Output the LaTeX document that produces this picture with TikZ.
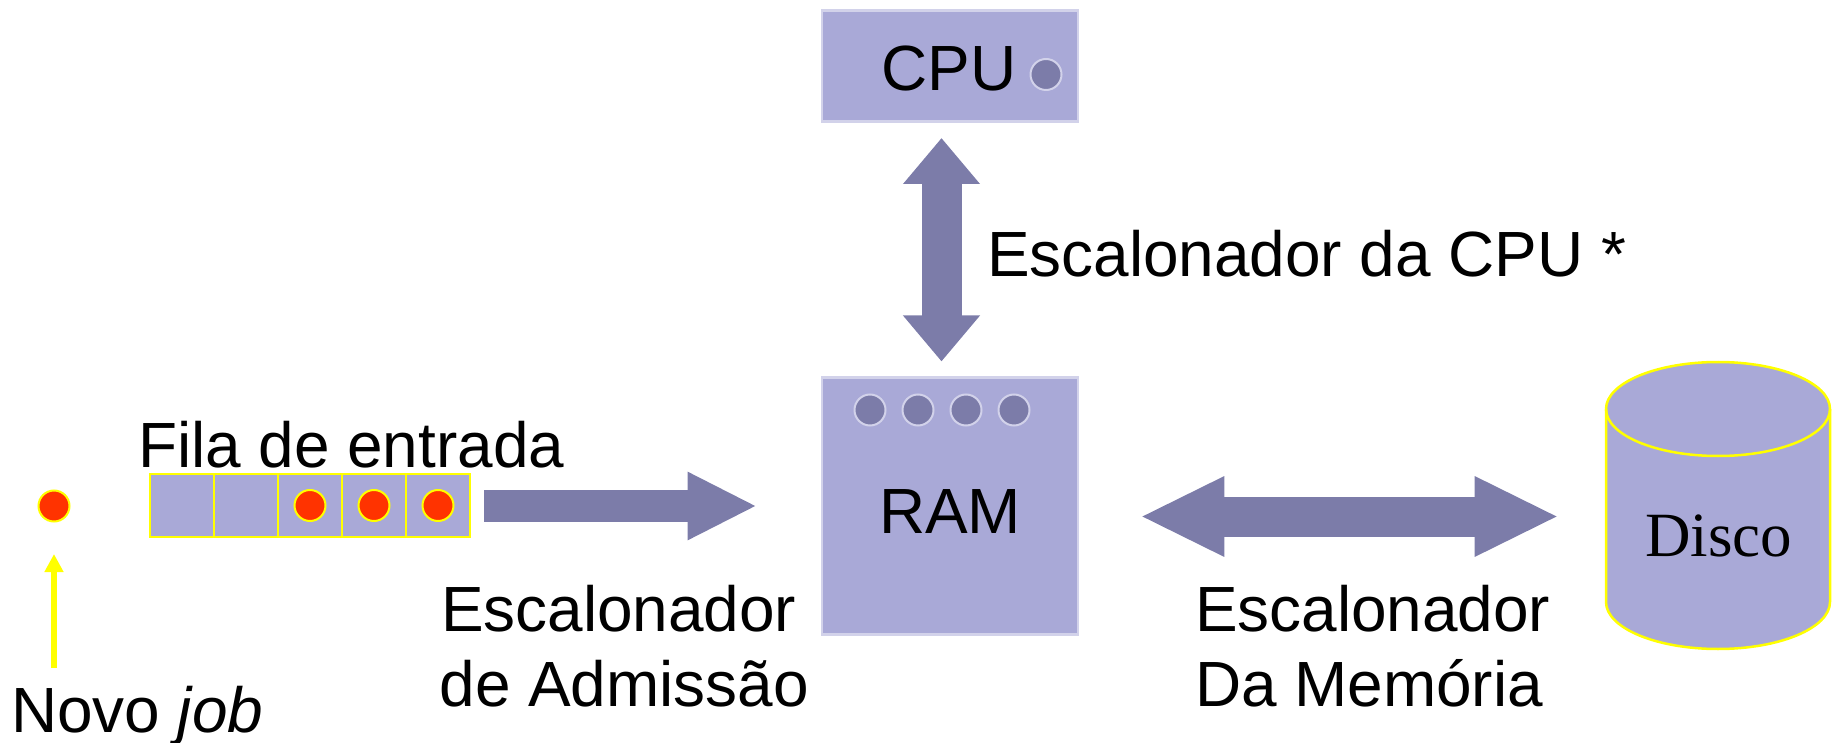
\documentclass[tikz,border=0pt]{standalone}
\usepackage{fontspec}
\setmainfont{Liberation Sans}
\newfontfamily\discofont{Liberation Serif}
\usetikzlibrary{arrows.meta,positioning}
\definecolor{boxfill}{HTML}{A9A9D7}
\definecolor{boxedge}{HTML}{D2D2EA}
\definecolor{dark}{HTML}{7C7CA9}
\definecolor{jobred}{HTML}{FF3300}
\definecolor{jobyellow}{HTML}{FFFF00}
\tikzset{
  every node/.style={inner sep=0pt,outer sep=0pt},
  label text/.style={anchor=base west,font=\fontsize{63.9}{64}\selectfont,text=black},
  machine/.style={draw=boxedge,fill=boxfill,line width=2.5pt,anchor=north west},
  cell/.style={draw=jobyellow,fill=boxfill,line width=2.5pt,minimum width=64pt,minimum height=63pt},
  slot/.style={circle,draw=boxedge,fill=dark,line width=2pt,minimum size=31pt},
  jobdot/.style={circle,draw=jobyellow,fill=jobred,line width=2pt,minimum size=31pt},
  flowvert/.style={draw=dark,line width=40pt,{Triangle[length=46pt,width=74pt]}-{Triangle[length=46pt,width=74pt]}},
  flowhoriz/.style={draw=dark,line width=40pt,{Triangle[length=84.3pt,width=74pt]}-{Triangle[length=84.3pt,width=74pt]}},
  flowright/.style={draw=dark,line width=32pt,-{Triangle[length=69.3pt,width=63pt]}},
  newjob/.style={draw=jobyellow,line width=5.5pt,-{Triangle[length=18pt,width=18pt]}},
  diskline/.style={draw=jobyellow,line width=2.5pt},
}
\begin{document}
\begin{tikzpicture}[x=1pt,y=-1pt]
\useasboundingbox (0,0) rectangle (1837,743);
% CPU
\node[machine,minimum width=256pt,minimum height=111pt] (cpu) at (822,10.5) {};
\node[label text] (cputext) at (881.5,91) {CPU};
\node[slot] (cpuslot) at (1046,74.5) {};
% RAM
\node[machine,minimum width=256pt,minimum height=257pt] (ram) at (822,377.5) {};
\node[label text] (ramtext) at (879,533) {RAM};
\node[slot] (s1) at (870,410) {};
\node[slot] (s2) at (918,410) {};
\node[slot] (s3) at (966,410) {};
\node[slot] (s4) at (1014,410) {};
% Queue
\node[cell] (q1) at (182,505.5) {};
\node[cell] (q2) at (246,505.5) {};
\node[cell] (q3) at (310,505.5) {};
\node[cell] (q4) at (374,505.5) {};
\node[cell] (q5) at (438,505.5) {};
\node[jobdot] (j1) at (q3) {};
\node[jobdot] (j2) at (q4) {};
\node[jobdot] (j3) at (q5) {};
\node[jobdot] (newdot) at (54,506) {};
\node[label text] (fila) at (138,467) {Fila de entrada};
% Disk
\path[fill=boxfill,diskline]
  (1606,409) -- (1606,602) arc[start angle=180,end angle=360,x radius=112,y radius=-47]
  -- (1830,409) arc[start angle=0,end angle=180,x radius=112,y radius=-47] -- cycle;
\draw[diskline]
  (1606,409) arc[start angle=180,end angle=360,x radius=112,y radius=-47];
\node[anchor=base west,font=\fontsize{63}{63}\selectfont\discofont] (disco) at (1645,556) {Disco};
% Labels
\node[label text] (lblcpu) at (987,277) {Escalonador da CPU *};
\node[label text] (lbladm1) at (441,631) {Escalonador};
\node[label text] (lbladm2) at (439.5,706) {de Admissão};
\node[label text] (lblmem1) at (1195,631) {Escalonador};
\node[label text] (lblmem2) at (1195,706) {Da Memória};
\node[label text] (novo) at (11,732) {Novo \textit{job}};
% Arrows
\coordinate (cpuend) at (941.5,138);
\coordinate (ramend) at (941.5,361.5);
\coordinate (qout) at (484,506);
\coordinate (ramin) at (757,506);
\coordinate (ramout) at (1140,516.5);
\coordinate (diskin) at (1559,516.5);
\coordinate (jobfoot) at (54,668);
\coordinate (jobtip) at (54,554);
\draw[flowvert] (cpuend) -- (ramend);
\draw[flowright] (qout) -- (ramin);
\draw[flowhoriz] (ramout) -- (diskin);
\draw[newjob] (jobfoot) -- (jobtip);
\end{tikzpicture}
\end{document}
